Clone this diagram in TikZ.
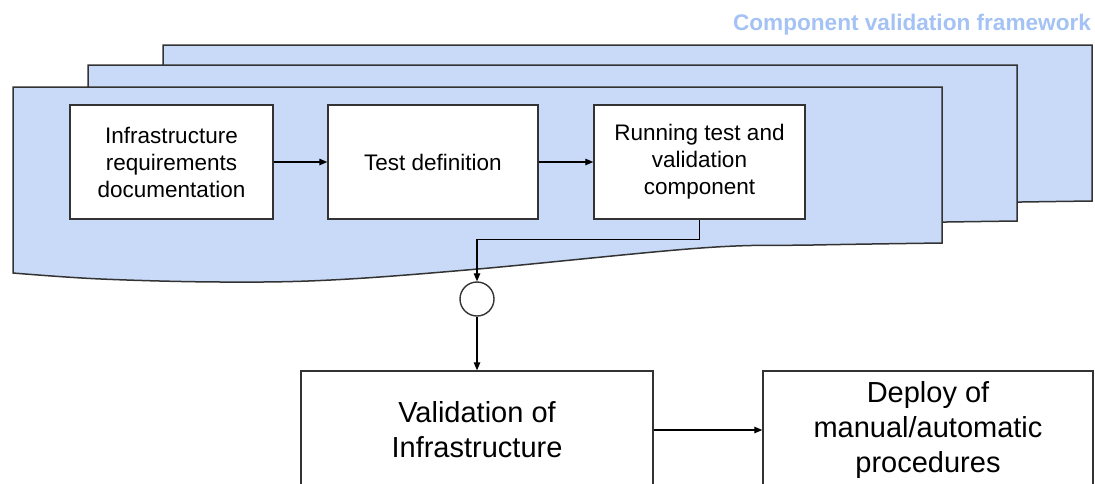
\documentclass[tikz,border=0pt]{standalone}
\usepackage{fontspec}
\setmainfont{Liberation Sans}
\usetikzlibrary{arrows.meta}
\definecolor{docfill}{HTML}{C9DAF8}
\definecolor{titleblue}{HTML}{A4C2F4}
\definecolor{edgegray}{HTML}{333333}
\tikzset{
  docstyle/.style={draw=edgegray, fill=docfill, line width=1.5pt, line join=miter},
  stepbox/.style={draw=edgegray, fill=white, line width=1.4pt, align=center, inner sep=2pt,
    font=\fontsize{22.5}{27}\selectfont},
  bigbox/.style={draw=edgegray, fill=white, line width=1.4pt, align=center, inner sep=2pt,
    minimum height=118pt, font=\fontsize{29}{35}\selectfont},
  arr/.style={draw=black, line width=1.3pt, -{Triangle[length=8pt,width=6.5pt]}},
  conn/.style={draw=black, line width=1.3pt},
}
\newcommand\docshape[2]{%
  \begin{scope}[shift={(#1,#2)}]
    \draw[docstyle] (0,0) -- (929,0) -- (929,156) -- plot[smooth, tension=0.6] coordinates
      {(929,156) (800,158) (688,161) (465,182) (318,193) (208,195) (88,192) (0,186)} -- cycle;
  \end{scope}}
\begin{document}
\begin{tikzpicture}[x=1pt,y=-1pt]
\useasboundingbox (0,0) rectangle (1095,483);
\clip (0,0) rectangle (1095,483);
% title
\node[text=titleblue, font=\bfseries\fontsize{22.6}{27}\selectfont] (title) at (912,25) {Component validation framework};
% stacked document shapes
\docshape{163}{45}
\docshape{88}{65}
\docshape{13}{87}
% inner steps
\node[stepbox, minimum width=203pt, minimum height=114pt] (req) at (171.5,162) {Infrastructure\\requirements\\documentation};
\node[stepbox, minimum width=210pt, minimum height=114pt] (def) at (433,162) {Test definition};
\node[stepbox, minimum width=211pt, minimum height=114pt] (run) at (699.5,162) {Running test and\\validation\\component};
% junction circle
\node[draw=edgegray, fill=white, circle, line width=1.4pt, minimum size=34pt, inner sep=0pt] (junc) at (477,299) {};
% lower boxes
\node[bigbox, minimum width=352pt] (valid) at (477,430) {Validation of\\Infrastructure};
\node[bigbox, minimum width=330pt] (deploy) at (928,430) {Deploy of\\manual/automatic\\procedures};
% connectors
\draw[arr] (req.east) -- (def.west);
\draw[arr] (def.east) -- (run.west);
\draw[arr] (run.south) -- ++(0,20) -| (junc.north);
\draw[arr] (junc.south) -- (valid.north);
\draw[arr] (valid.east) -- (deploy.west);
\end{tikzpicture}
\end{document}
